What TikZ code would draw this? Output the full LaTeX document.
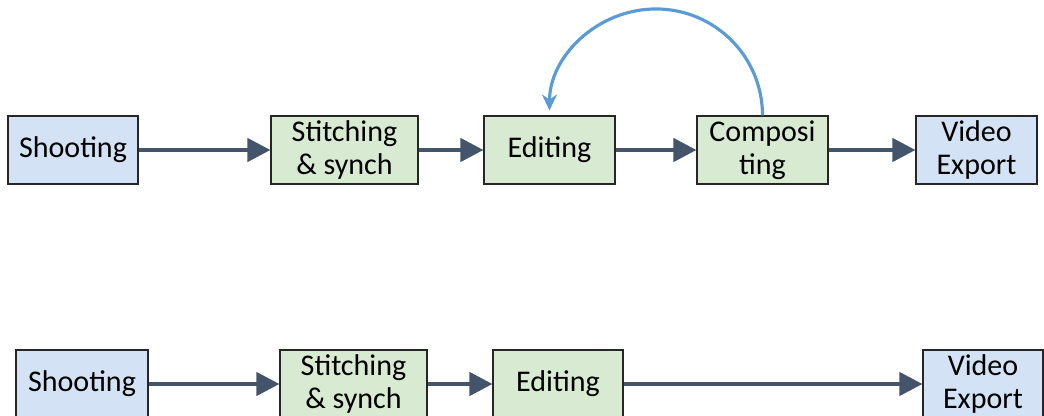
\documentclass[tikz,border=0pt]{standalone}
\usepackage{fontspec}
\setmainfont{Carlito}
\usetikzlibrary{arrows.meta}
\usetikzlibrary{positioning}
\definecolor{StageBlue}{HTML}{D3E2F4}
\definecolor{StageGreen}{HTML}{D9EAD3}
\definecolor{FlowGray}{HTML}{44546A}
\definecolor{LoopBlue}{HTML}{5B9BD5}
\tikzset{
  stage/.style={draw=black!85, line width=0.6pt, minimum height=1.36cm,
    inner sep=0pt, align=center, font=\fontsize{17.1}{18.9}\selectfont},
  io/.style={stage, fill=StageBlue},
  proc/.style={stage, fill=StageGreen},
  flow/.style={draw=FlowGray, line width=2.4pt,
    -{Triangle[length=0.46cm,width=0.46cm]}},
  loopback/.style={draw=LoopBlue, line width=1.8pt,
    -{Stealth[length=0.32cm,width=0.3cm]}, shorten >=0.1cm}
}

\begin{document}
\begin{tikzpicture}
  \useasboundingbox (0,0) rectangle (20.88,-8.32);

  % full pipeline
  \node[io, minimum width=2.6cm]   (shoot)  at (1.46,-3.0)  {Shooting};
  \node[proc, minimum width=2.94cm] (stitch) at (6.89,-3.0)  {Stitching\\\& synch};
  \node[proc, minimum width=2.62cm] (edit)   at (10.99,-3.0) {Editing};
  \node[proc, minimum width=2.62cm] (comp)   at (15.25,-3.0) {Composi\\ting};
  \node[io, minimum width=2.42cm]   (export) at (19.53,-3.0) {Video\\Export};

  \draw[flow] (shoot) -- (stitch);
  \draw[flow] (stitch) -- (edit);
  \draw[flow] (edit) -- (comp);
  \draw[flow] (comp) -- (export);

  \draw[loopback] (comp.north) arc[start angle=0, end angle=180, radius=2.13cm];

  % short pipeline, no compositing
  \node[io, minimum width=2.64cm]   (shootb)  at (1.64,-7.68)  {Shooting};
  \node[proc, minimum width=2.94cm] (stitchb) at (7.07,-7.68)  {Stitching\\\& synch};
  \node[proc, minimum width=2.6cm]  (editb)   at (11.16,-7.68) {Editing};
  \node[io, minimum width=2.4cm]    (exportb) at (19.66,-7.68) {Video\\Export};

  \draw[flow] (shootb) -- (stitchb);
  \draw[flow] (stitchb) -- (editb);
  \draw[flow] (editb) -- (exportb);
\end{tikzpicture}
\end{document}
